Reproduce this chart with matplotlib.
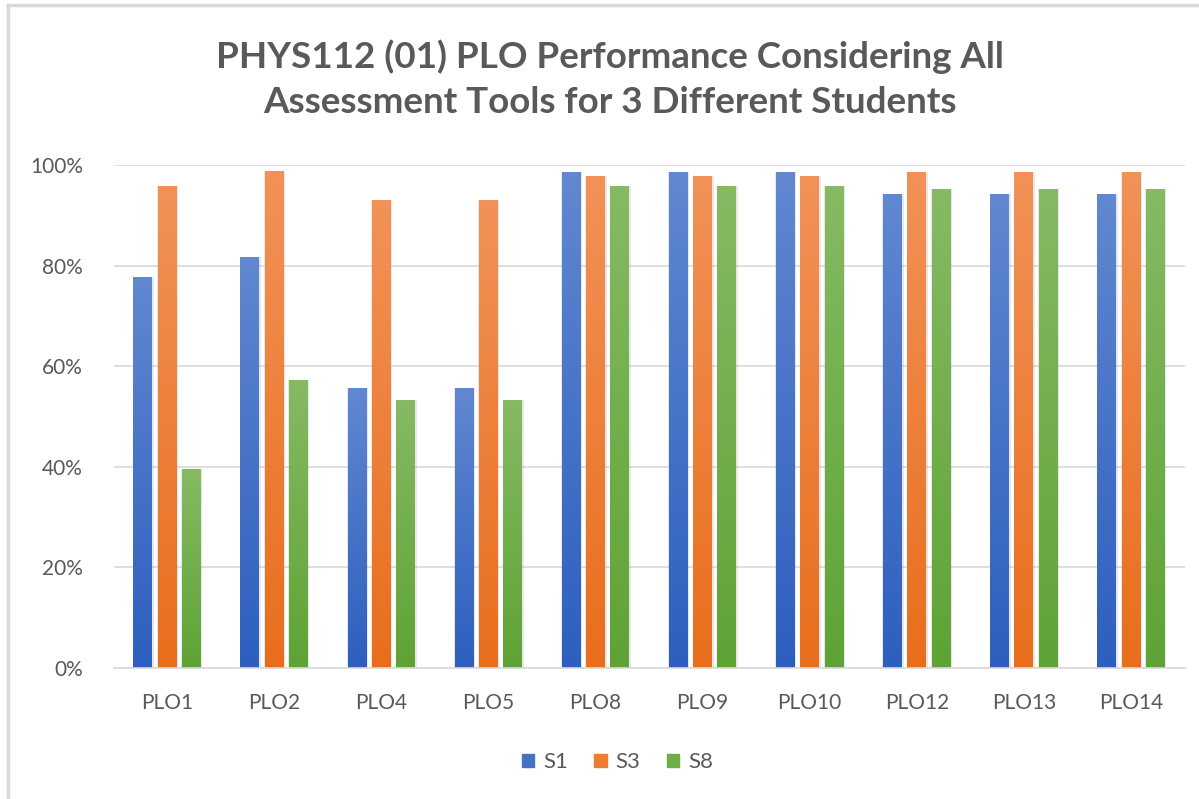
import numpy as np
import matplotlib.pyplot as plt
from matplotlib.patches import Rectangle
from matplotlib.colors import LinearSegmentedColormap
from matplotlib.ticker import FuncFormatter, MultipleLocator

# categories and series (percent)
plos = ['PLO1', 'PLO2', 'PLO4', 'PLO5', 'PLO8', 'PLO9', 'PLO10', 'PLO12', 'PLO13', 'PLO14']
s1 = [77.8, 81.8, 55.6, 55.6, 98.7, 98.7, 98.7, 94.2, 94.2, 94.2]
s3 = [95.8, 98.9, 93.0, 93.0, 97.8, 97.8, 97.8, 98.7, 98.7, 98.7]
s8 = [39.5, 57.3, 53.3, 53.3, 95.8, 95.8, 95.8, 95.3, 95.3, 95.3]
series_names = ['S1', 'S3', 'S8']

# (top colour, bottom colour) for each series gradient
grads = [('#6188d0', '#2d5fbf'), ('#f29258', '#e86e1c'), ('#86ba63', '#5ea335')]
solid = ['#4472c4', '#ed7d31', '#70ad47']

plt.rcParams['font.family'] = ['Lato', 'DejaVu Sans']
txt_col = '#595959'

fig = plt.figure(figsize=(11.99, 7.99), dpi=100)
fig.patch.set_facecolor('white')
ax = fig.add_axes([0.0947, 0.164, 0.8933, 0.6295])

x = np.arange(len(plos))
w = 0.177
step = 0.227

for i, vals in enumerate([s1, s3, s8]):
    pos = x + (i - 1) * step
    # soft shadow behind bars
    ax.bar(pos + 0.004, vals, w + 0.02, color='#9a9a9a', alpha=0.22, zorder=1.5, linewidth=0)
    bars = ax.bar(pos, vals, w, color=solid[i], label=series_names[i], zorder=2, linewidth=0)
    cmap = LinearSegmentedColormap.from_list('g%d' % i, [grads[i][1], grads[i][0]])
    grad = np.linspace(0, 1, 256).reshape(-1, 1)
    for b in bars:
        bx, by = b.get_x(), b.get_y()
        bw, bh = b.get_width(), b.get_height()
        im = ax.imshow(grad, cmap=cmap, origin='lower', aspect='auto',
                       extent=[bx, bx + bw, by, by + bh], zorder=2.1)
        im.set_clip_path(b)

ax.set_xlim(-0.5, len(plos) - 0.5)
ax.set_ylim(0, 100)

# axes styling
ax.yaxis.set_major_locator(MultipleLocator(20))
ax.yaxis.set_major_formatter(FuncFormatter(lambda v, p: '%d%%' % v))
ax.grid(axis='y', color='#d9d9d9', linewidth=1.2, zorder=0)
ax.set_axisbelow(True)
for s in ['top', 'right', 'left']:
    ax.spines[s].set_visible(False)
ax.spines['bottom'].set_color('#d9d9d9')
ax.spines['bottom'].set_linewidth(1.2)
ax.set_xticks(x)
ax.set_xticklabels(plos)
ax.tick_params(axis='both', length=0, labelsize=15, labelcolor=txt_col)
ax.tick_params(axis='x', pad=18)
ax.tick_params(axis='y', pad=22)

# title
fig.text(0.509, 0.901, 'PHYS112 (01) PLO Performance Considering All\nAssessment Tools for 3 Different Students',
         ha='center', va='center', fontsize=26.5, fontweight='bold', color=txt_col, linespacing=1.45)

# legend
handles = [Rectangle((0, 0), 1, 1, color=c) for c in solid]
fig.legend(handles, series_names, loc='center', bbox_to_anchor=(0.515, 0.046), ncol=3,
           frameon=False, fontsize=16, labelcolor=txt_col, handlelength=0.55, handleheight=0.55,
           handletextpad=0.4, columnspacing=1.2)

# chart border (left and top)
fig.add_artist(plt.Line2D([8 / 1199, 8 / 1199], [0, 1 - 5 / 799], color='#d9d9d9', linewidth=2.5,
                          transform=fig.transFigure))
fig.add_artist(plt.Line2D([8 / 1199, 1], [1 - 5 / 799, 1 - 5 / 799], color='#d9d9d9', linewidth=2.5,
                          transform=fig.transFigure))

fig.savefig('out.png', dpi=100, facecolor='white')
